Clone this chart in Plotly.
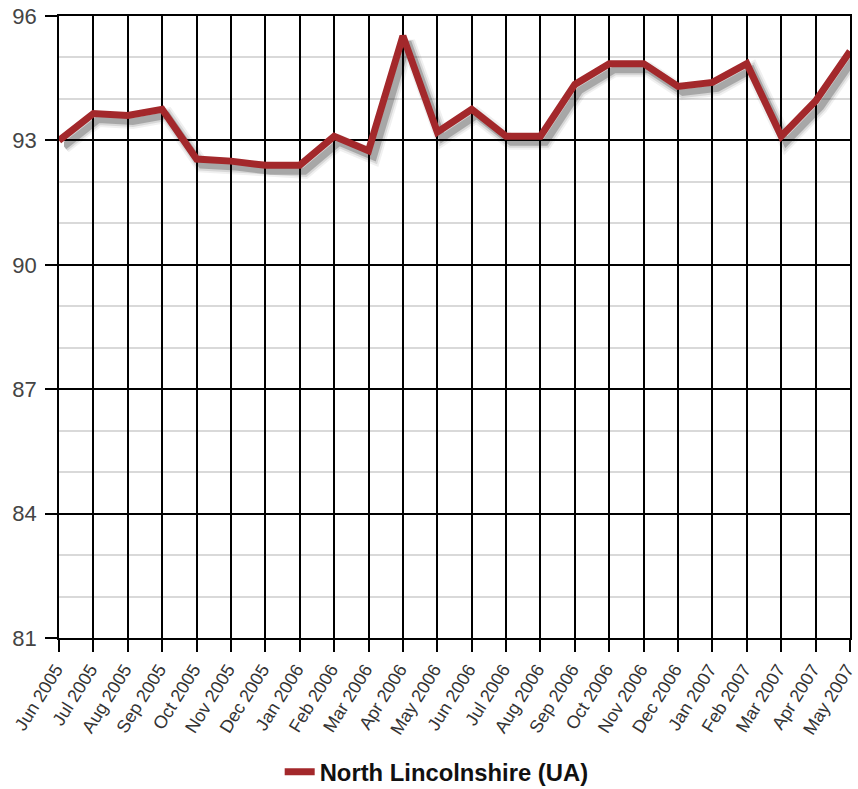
import plotly.graph_objects as go

# Monthly series for North Lincolnshire (UA)
months = ["Jun 2005", "Jul 2005", "Aug 2005", "Sep 2005", "Oct 2005", "Nov 2005",
          "Dec 2005", "Jan 2006", "Feb 2006", "Mar 2006", "Apr 2006", "May 2006",
          "Jun 2006", "Jul 2006", "Aug 2006", "Sep 2006", "Oct 2006", "Nov 2006",
          "Dec 2006", "Jan 2007", "Feb 2007", "Mar 2007", "Apr 2007", "May 2007"]
values = [93.0, 93.65, 93.6, 93.75, 92.55, 92.5,
          92.4, 92.4, 93.1, 92.75, 95.52, 93.2,
          93.75, 93.1, 93.1, 94.35, 94.85, 94.85,
          94.3, 94.4, 94.85, 93.1, 93.95, 95.15]
y_ticks = [81, 84, 87, 90, 93, 96]
series_name = "North Lincolnshire (UA)"

W, H = 858, 789
ML, MR, MT, MB = 59, 8, 16, 151
plot_w = W - ML - MR
plot_h = H - MT - MB

idx = list(range(len(months)))
x_range = [0, len(months) - 1]
y_range = [81, 96]

# drop shadow: offset in pixels, converted to axis domain / range shifts
sx, sy = 5, 6
dx_frac = sx / plot_w
dy_frac = sy / plot_h
x_units = sx * (x_range[1] - x_range[0]) / plot_w
y_units = sy * (y_range[1] - y_range[0]) / plot_h

FONT = "Liberation Sans, Arial, sans-serif"
fig = go.Figure()

# subplot 1: grid and axes only
fig.add_trace(go.Scatter(x=idx, y=values, mode="lines", line=dict(width=0),
                         hoverinfo="skip", showlegend=False, xaxis="x", yaxis="y"))

# subplot 2: soft shadow under the line
for w, a in [(15, 0.06), (11, 0.10), (7, 0.22)]:
    fig.add_trace(go.Scatter(x=idx, y=values, mode="lines",
                             line=dict(color=f"rgba(0,0,0,{a})", width=w),
                             hoverinfo="skip", showlegend=False,
                             xaxis="x2", yaxis="y2"))

# subplot 3: the series itself
fig.add_trace(go.Scatter(x=idx, y=values, mode="lines", name=series_name,
                         line=dict(color="#a3282b", width=7),
                         xaxis="x3", yaxis="y3"))

hidden = dict(visible=False, fixedrange=True)

fig.update_layout(
    width=W, height=H,
    margin=dict(l=ML, r=MR, t=MT, b=MB, pad=0, autoexpand=False),
    paper_bgcolor="white",
    plot_bgcolor="rgba(0,0,0,0)",
    font=dict(family=FONT, color="#333333"),
    xaxis=dict(
        domain=[0, 1], range=x_range, automargin=False,
        tickmode="array", tickvals=idx, ticktext=months,
        tickangle=-58, tickfont=dict(size=18, color="#333333"),
        ticklabeloverflow="allow", ticklabelshift=-3,
        ticks="outside", ticklen=12, tickwidth=1.6, tickcolor="black",
        showgrid=True, gridcolor="black", gridwidth=1.6,
        showline=True, linecolor="black", linewidth=1.6, mirror=True,
        zeroline=False,
    ),
    yaxis=dict(
        domain=[0, 1], range=y_range, automargin=False,
        tickmode="array", tickvals=y_ticks,
        tickfont=dict(size=22, color="#444444"),
        ticklabeloverflow="allow",
        ticks="outside", ticklen=12, tickwidth=1.6, tickcolor="black",
        showgrid=True, gridcolor="black", gridwidth=1.6,
        minor=dict(dtick=1, showgrid=True, gridcolor="#d9d9d9", gridwidth=1.5, ticks=""),
        showline=True, linecolor="black", linewidth=1.6, mirror=True,
        zeroline=False, ticklabelstandoff=4,
    ),
    xaxis2=dict(domain=[dx_frac, 1], range=[x_range[0], x_range[1] - x_units],
                anchor="y2", **hidden),
    yaxis2=dict(domain=[0, 1 - dy_frac], range=[y_range[0] + y_units, y_range[1]],
                anchor="x2", **hidden),
    xaxis3=dict(domain=[0, 1], range=x_range, anchor="y3", **hidden),
    yaxis3=dict(domain=[0, 1], range=y_range, anchor="x3", **hidden),
    legend=dict(
        orientation="h", x=0.279, xanchor="left", y=-0.215, yanchor="middle",
        font=dict(family=FONT, size=23.8, color="#111111", weight="bold"),
        bgcolor="rgba(0,0,0,0)",
    ),
    showlegend=True,
)

fig.write_html("out.html")
